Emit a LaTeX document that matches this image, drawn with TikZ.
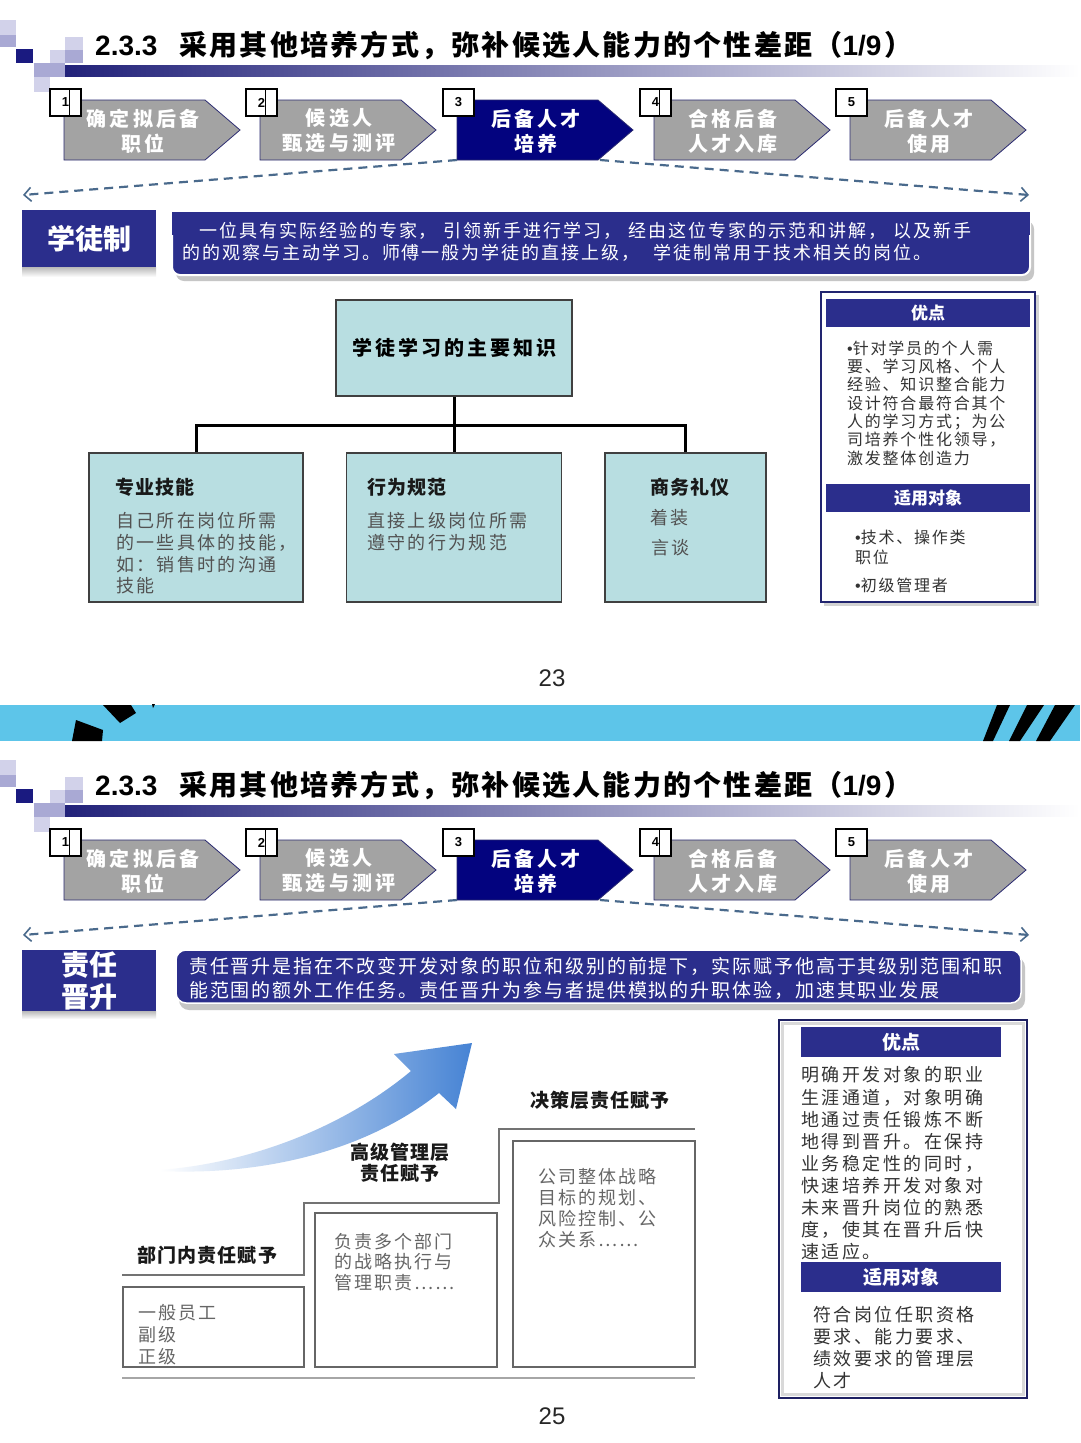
\documentclass[tikz,border=0pt]{standalone}
\usepackage{fontspec}
\setmainfont{Noto Sans CJK SC}
\newfontfamily\arialf{Liberation Sans}
\usetikzlibrary{arrows.meta}
\newcommand\fz[2]{\fontsize{#1}{#2}\selectfont}
\newcommand\ls[1]{\addfontfeature{LetterSpace=#1}}
\newcommand\bul{{\arialf •}}
\definecolor{navyA}{HTML}{2B2E8C}
\definecolor{navyC}{HTML}{03037F}
\definecolor{chevgrey}{HTML}{A3A3A3}
\definecolor{chevline}{HTML}{2A2A70}
\definecolor{dashc}{HTML}{4A6A8C}
\definecolor{tealc}{HTML}{B8DEE1}
\definecolor{bandc}{HTML}{5DC5E9}
\definecolor{arrowc}{HTML}{4683D4}
\definecolor{arrowm}{HTML}{B9CFEE}
\definecolor{sqnavy}{HTML}{1A1A80}
\definecolor{sqlav}{HTML}{A9A9D4}
\definecolor{sqlight}{HTML}{D2D2EA}
\definecolor{barnavy}{HTML}{22227A}
\definecolor{barmid}{HTML}{A8A8C4}
\tikzset{
  chev/.style={draw=chevline, line width=0.8pt},
  chevtxt/.style={text=white, align=center, inner sep=0pt, font=\bfseries\ls{16}\fz{20}{25}},
  numbox/.style={draw=black, fill=white, line width=1.2pt, minimum width=31pt, minimum height=27pt, inner sep=0pt, font=\arialf\bfseries\fz{13}{13}},
  dashln/.style={draw=dashc, line width=2.2pt, dash pattern=on 9pt off 6pt, -{Straight Barb[length=7pt,width=14pt,line width=1.6pt]}},
  lbl/.style={fill=navyA, text=white, inner sep=0pt, align=center, font=\bfseries\fz{28}{32}},
  desc/.style={text=white, inner sep=0pt, anchor=west},
  tbox/.style={draw=black!75, fill=tealc, line width=1.3pt, inner sep=0pt},
  tline/.style={line width=3pt, draw=black},
  ttl/.style={anchor=west, inner sep=0pt, text=black!90, font=\bfseries\ls{6}\fz{19}{22}},
  tbody/.style={anchor=west, inner sep=0pt, align=left, text=black!68, font=\ls{13}\fz{18}{21.7}},
  pbar/.style={fill=navyA, text=white, inner sep=0pt, font=\bfseries\fz{17}{20}},
  pbody/.style={anchor=west, inner sep=0pt, align=left, text=black!80},
  stair/.style={draw=black!55, line width=1.5pt},
  sbox/.style={draw=black!60, line width=1.3pt, inner sep=0pt},
  stxt/.style={anchor=west, inner sep=0pt, align=left, text=black!60},
  slbl/.style={inner sep=0pt, align=center, text=black!90, font=\bfseries\ls{6}\fz{19}{21}},
  pgno/.style={inner sep=0pt, text=black!85, font=\arialf\fz{24}{24}}
}
\newcommand\slidehead{%
  \fill[sqlight] (0,20) rectangle (15.5,35);
  \fill[sqlav] (0,35) rectangle (15.5,47);
  \fill[sqnavy] (15.5,49) rectangle (33,63);
  \fill[sqlight] (50,50) rectangle (65,63);
  \fill[sqlight] (65,37) rectangle (83,50);
  \fill[sqlav] (65,50) rectangle (83,63);
  \fill[sqlav] (34,63) rectangle (50,77);
  \fill[sqlav] (50,63) rectangle (65,77);
  \fill[sqlight] (34,77) rectangle (50,92);
  \shade[left color=barnavy, middle color=barmid, right color=white] (65,65) rectangle (1080,76);
  \node[anchor=west, inner sep=0pt, font=\bfseries\fz{28}{30}] (title) at (95,45)
    {{\arialf 2.3.3}\hspace{22pt}{\ls{8}采用其他培养方式，弥补候选人能力的个性差距（}{\arialf 1/9}\hspace{3pt}）};
  \foreach \i/\x/\fc/\la/\lb in {1/64/chevgrey/确定拟后备/职位, 2/260/chevgrey/候选人/甄选与测评, 3/457/navyC/后备人才/培养, 4/654/chevgrey/合格后备/人才入库, 5/850/chevgrey/后备人才/使用}{
    \path[chev, fill=\fc] (\x,100) -- ++(141,0) -- ++(35,30) -- ++(-35,30) -- ++(-141,0) -- cycle;
    \node[chevtxt] (chev\i) at (\x+79,131) {\la\\\lb};
    \node[numbox] (num\i) at (\x+1.5,102.5) {\i};
  }
  \foreach \i in {1,2,4}{
    \draw[line width=1.2pt] ([xshift=4pt]num\i.north) -- ([xshift=4pt]num\i.south);
  }
  \coordinate (c3l) at (457,160);
  \coordinate (c3r) at (600,160);
  \coordinate (dl) at (23,195);
  \coordinate (dr) at (1029,195);
  \draw[dashln] (c3l) -- (dl);
  \draw[dashln] (c3r) -- (dr);
}
\begin{document}
\begin{tikzpicture}[x=1pt, y=-1pt]
\useasboundingbox (0,0) rectangle (1080,1443);
\fill[white] (0,0) rectangle (1080,1443);

% ================= slide 1 =================
\begin{scope}[name prefix=s1-]
\slidehead
\end{scope}

% label
\shade[top color=gray!55, bottom color=white] (22,267) rectangle (156,277);
\node[lbl, minimum width=134pt, minimum height=57pt] (lab1) at (89,238.5) {学徒制};
% description
\fill[gray!45, rounded corners=8pt] (176,221) rectangle (1034,281);
\path[fill=navyA, draw=white, line width=2pt, rounded corners=8pt] (172,213) rectangle (1030,275);
\fill[navyA] (172,212) rectangle (1030,235);
\node[desc, font=\ls{11}\fz{18}{22}] (d1a) at (199,231) {一位具有实际经验的专家，\hspace{7pt}引领新手进行学习，\hspace{7pt}经由这位专家的示范和讲解，\hspace{7pt}以及新手};
\node[desc, font=\ls{11}\fz{18}{22}] (d1b) at (182,253) {的的观察与主动学习。师傅一般为学徒的直接上级，\hspace{14pt}学徒制常用于技术相关的岗位。};

% tree
\node[tbox, minimum width=236pt, minimum height=96pt, font=\bfseries\ls{15}\fz{20}{24}] (root) at (454,348) {学徒学习的主要知识};
\node[tbox, minimum width=214pt, minimum height=149pt] (ka) at (196,527.5) {};
\node[tbox, minimum width=215pt, minimum height=149pt] (kb) at (454,527.5) {};
\node[tbox, minimum width=161pt, minimum height=149pt] (kc) at (685.5,527.5) {};
\coordinate (bus) at (454,425);
\draw[tline] (root.south) -- (bus);
\draw[tline] (ka.north) |- (bus) -| (kc.north);
\draw[tline] (bus) -- (kb.north);
\node[ttl] (kat) at (115,487) {专业技能};
\node[tbody] (kab) at (116,553.5) {自己所在岗位所需\\的一些具体的技能，\\如：销售时的沟通\\技能};
\node[ttl] (kbt) at (367,487) {行为规范};
\node[tbody] (kbb) at (367,531.5) {直接上级岗位所需\\遵守的行为规范};
\node[ttl] (kct) at (650,487) {商务礼仪};
\node[tbody] (kcb1) at (650,518) {着装};
\node[tbody] (kcb2) at (651,548) {言谈};

% right panel 1
\fill[gray!35] (824,295) rectangle (1039,606);
\draw[navyA!80!black, line width=2pt, fill=white] (821,292) rectangle (1035,602);
\node[pbar, minimum width=204pt, minimum height=28pt] (p1h1) at (928,313) {优点};
\node[pbar, minimum width=204pt, minimum height=28pt] (p1h2) at (928,498) {适用对象};
\node[pbody, font=\ls{11}\fz{16}{18.3}] (p1b1) at (847,403) {\bul 针对学员的个人需\\要、学习风格、个人\\经验、知识整合能力\\设计符合最符合其个\\人的学习方式；为公\\司培养个性化领导，\\激发整体创造力};
\node[pbody, font=\ls{11}\fz{16}{20}] (p1b2) at (855,547.5) {\bul 技术、操作类\\职位};
\node[pbody, font=\ls{11}\fz{16}{20}] (p1b3) at (855,585) {\bul 初级管理者};

\node[pgno] (pg23) at (552,678) {23};

% ================= band =================
\fill[bandc] (0,705) rectangle (1080,741);
\fill[black] (103,705) -- (131,705) -- (136,713) -- (120,723) -- cycle;
\fill[black] (76,720) -- (103,730) -- (102,741) -- (72,741) -- cycle;
\fill[black] (152,704) -- (155,704) -- (153,708) -- cycle;
\fill[black] (983,741) -- (993,741) -- (1010,705) -- (997,705) -- cycle;
\fill[black] (1009,741) -- (1020,741) -- (1044,705) -- (1027,705) -- cycle;
\fill[black] (1036,741) -- (1050,741) -- (1075,705) -- (1055,705) -- cycle;

% ================= slide 2 =================
\begin{scope}[yshift=-740pt, name prefix=s2-]
\slidehead
\end{scope}

\shade[top color=gray!55, bottom color=white] (22,1011) rectangle (156,1019);
\node[lbl, minimum width=134pt, minimum height=61pt] (lab2) at (89,980.5) {责任\\晋升};
\fill[gray!45, rounded corners=10pt] (179,957) rectangle (1025,1010);
\path[fill=navyA, draw=white, line width=1.5pt, rounded corners=10pt] (176,950) rectangle (1021,1003);
\node[desc, font=\ls{10}\fz{19}{24}] (d2a) at (189,966) {责任晋升是指在不改变开发对象的职位和级别的前提下，实际赋予他高于其级别范围和职};
\node[desc, font=\ls{10}\fz{19}{24}] (d2b) at (189,990) {能范围的额外工作任务。责任晋升为参与者提供模拟的升职体验，加速其职业发展};

% curved arrow
\shade[left color=white, middle color=arrowm, right color=arrowc]
  (160,1170) .. controls (260,1162) and (350,1122) .. (411,1071)
  -- (394,1054) -- (472,1043) -- (456,1109) -- (439,1093)
  .. controls (370,1148) and (270,1176) .. (160,1171) -- cycle;

% stairs
\draw[stair] (122,1275) -- (304,1275) -- (304,1203) -- (499,1203) -- (499,1129) -- (695,1129);
\draw[stair, draw=black!35] (122,1378) -- (695,1378);
\node[sbox, minimum width=181pt, minimum height=80pt] (sb1) at (213.5,1327) {};
\node[sbox, minimum width=182pt, minimum height=154pt] (sb2) at (406,1290) {};
\node[sbox, minimum width=182pt, minimum height=226pt] (sb3) at (604,1254) {};
\node[stxt, font=\ls{11}\fz{18}{22}] (sb1t) at (138,1335) {一般员工\\副级\\正级};
\node[stxt, font=\ls{11}\fz{18}{20.5}] (sb2t) at (334,1262) {负责多个部门\\的战略执行与\\管理职责……};
\node[stxt, font=\ls{11}\fz{18}{21}] (sb3t) at (538,1208.5) {公司整体战略\\目标的规划、\\风险控制、公\\众关系……};
\node[slbl, anchor=west] (sl1) at (137,1255) {部门内责任赋予};
\node[slbl] (sl2) at (400,1162.5) {高级管理层\\责任赋予};
\node[slbl] (sl3) at (600,1100) {决策层责任赋予};

% right panel 2
\draw[navyA!70!black, line width=2.2pt, fill=white] (779,1020) rectangle (1027,1398);
\draw[gray!30, line width=2.5pt] (782.5,1023.5) rectangle (1023.5,1394.5);
\node[pbar, minimum width=200pt, minimum height=30pt, font=\bfseries\fz{19}{22}] (p2h1) at (901,1042) {优点};
\node[pbar, minimum width=200pt, minimum height=30pt, font=\bfseries\fz{19}{22}] (p2h2) at (901,1277) {适用对象};
\node[pbody, font=\ls{14}\fz{18}{22.1}] (p2b1) at (801,1163.5) {明确开发对象的职业\\生涯通道，对象明确\\地通过责任锻炼不断\\地得到晋升。在保持\\业务稳定性的同时，\\快速培养开发对象对\\未来晋升岗位的熟悉\\度，使其在晋升后快\\速适应。};
\node[pbody, font=\ls{14}\fz{18}{21.7}] (p2b2) at (813,1347.5) {符合岗位任职资格\\要求、能力要求、\\绩效要求的管理层\\人才};

\node[pgno] (pg25) at (552,1416) {25};
\end{tikzpicture}
\end{document}
